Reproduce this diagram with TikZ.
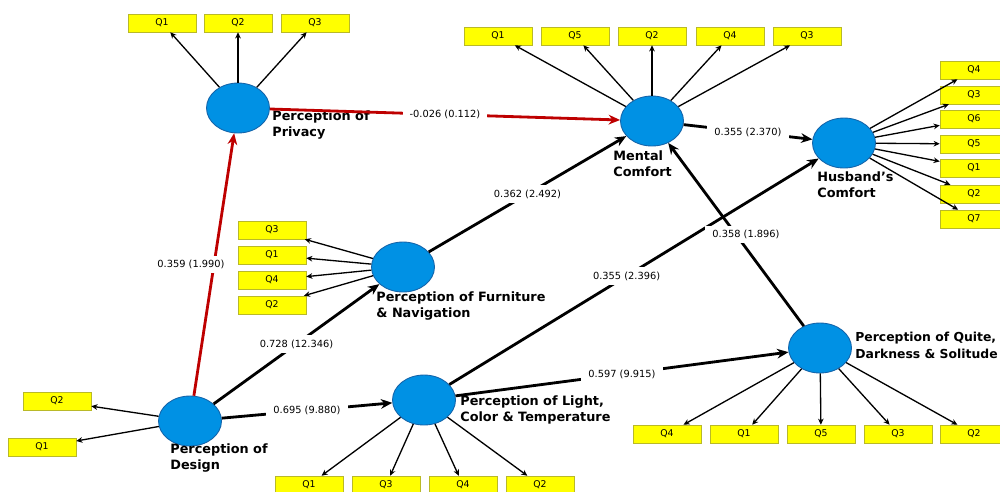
\documentclass[tikz,border=0pt]{standalone}
\usepackage{fontspec}
\newfontfamily\dv{DejaVu Sans}
\usetikzlibrary{arrows.meta,shapes.geometric}
\definecolor{lvfill}{RGB}{0,145,228}
\definecolor{lvdraw}{RGB}{20,100,170}
\definecolor{boxfill}{RGB}{255,255,0}
\definecolor{boxdraw}{RGB}{185,185,40}
\definecolor{pathred}{RGB}{190,0,0}
\begin{document}
\begin{tikzpicture}[x=0.02cm,y=-0.02cm,
 lv/.style={ellipse, draw=lvdraw, fill=lvfill, line width=0.5pt, minimum width=1.26cm, minimum height=1.0cm, inner sep=0pt},
 ind/.style={rectangle, fill=boxfill, draw=boxdraw, line width=0.3pt, minimum width=1.36cm, minimum height=0.36cm, inner sep=0pt, font=\dv\fontsize{5.3}{6}\selectfont},
 lvlab/.style={anchor=north west, align=left, inner sep=0pt, font=\dv\bfseries\fontsize{7.3}{9.6}\selectfont},
 load/.style={-{Stealth[length=3.5pt,width=3.2pt]}, line width=0.75pt},
 pth/.style={-{Stealth[length=6.5pt,width=5.5pt]}, line width=1.6pt},
 rpth/.style={pth, draw=pathred},
 coef/.style={fill=white, inner xsep=4pt, inner ysep=2.5pt, font=\dv\fontsize{5.6}{6}\selectfont, text=black}
]
\useasboundingbox (0,0) rectangle (1000,491);

% latent variables
\node[lv] (priv) at (238,108) {};
\node[lv] (ment) at (652,121) {};
\node[lv] (husb) at (844,143) {};
\node[lv] (furn) at (403,267) {};
\node[lv] (desg) at (190,421) {};
\node[lv] (lght) at (424,400) {};
\node[lv] (quit) at (820,348) {};

% labels of latent variables
\node[lvlab] (privl) at (272,110) {Perception of\\Privacy};
\node[lvlab] (mentl) at (613,150) {Mental\\Comfort};
\node[lvlab] (husbl) at (817,171) {Husband’s\\Comfort};
\node[lvlab] (furnl) at (376,291) {Perception of Furniture\\\& Navigation};
\node[lvlab] (desgl) at (170,443) {Perception of\\Design};
\node[lvlab] (lghtl) at (460,395) {Perception of Light,\\Color \& Temperature};
\node[lvlab, font=\dv\bfseries\fontsize{7.05}{9.6}\selectfont] (quitl) at (855,332) {Perception of Quite,\\Darkness \& Solitude};

% indicators: privacy
\node[ind] (p1) at (162,23) {Q1};
\node[ind] (p2) at (238,23) {Q2};
\node[ind] (p3) at (315,23) {Q3};
% mental
\node[ind] (m1) at (498,36) {Q1};
\node[ind] (m5) at (575,36) {Q5};
\node[ind] (m2) at (652,36) {Q2};
\node[ind] (m4) at (730,36) {Q4};
\node[ind] (m3) at (807,36) {Q3};
% husband
\node[ind] (h4) at (974,70) {Q4};
\node[ind] (h3) at (974,95) {Q3};
\node[ind] (h6) at (974,119) {Q6};
\node[ind] (h5) at (974,144) {Q5};
\node[ind] (h1) at (974,168) {Q1};
\node[ind] (h2) at (974,194) {Q2};
\node[ind] (h7) at (974,219) {Q7};
% furniture
\node[ind] (f3) at (272,230) {Q3};
\node[ind] (f1) at (272,255) {Q1};
\node[ind] (f4) at (272,280) {Q4};
\node[ind] (f2) at (272,305) {Q2};
% design
\node[ind] (d2) at (57,401) {Q2};
\node[ind] (d1) at (42,447) {Q1};
% light
\node[ind] (l1) at (309,485) {Q1};
\node[ind] (l3) at (386,485) {Q3};
\node[ind] (l4) at (463,485) {Q4};
\node[ind] (l2) at (540,485) {Q2};
% quite
\node[ind] (q4) at (667,434) {Q4};
\node[ind] (q1) at (744,434) {Q1};
\node[ind] (q5) at (821,434) {Q5};
\node[ind] (q3) at (898,434) {Q3};
\node[ind] (q2) at (974,434) {Q2};

% loadings
\foreach \t in {p1,p2,p3} \draw[load] (priv) -- (\t);
\foreach \t in {m1,m5,m2,m4,m3} \draw[load] (ment) -- (\t);
\foreach \t in {h4,h3,h6,h5,h1,h2,h7} \draw[load] (husb) -- (\t);
\foreach \t in {f3,f1,f4,f2} \draw[load] (furn) -- (\t);
\foreach \t in {d2,d1} \draw[load] (desg) -- (\t);
\foreach \t in {l1,l3,l4,l2} \draw[load] (lght) -- (\t);
\foreach \t in {q4,q1,q5,q3,q2} \draw[load] (quit) -- (\t);

% structural paths
\draw[rpth] (priv) -- node[coef] {-0.026 (0.112)} (ment);
\draw[rpth] (desg) -- node[coef, xshift=-0.46cm] {0.359 (1.990)} (priv);
\draw[pth] (desg) -- node[coef] {0.728 (12.346)} (furn);
\draw[pth] (desg) -- node[coef] {0.695 (9.880)} (lght);
\draw[pth] (furn) -- node[coef] {0.362 (2.492)} (ment);
\draw[pth] (lght) -- node[coef, pos=0.48] {0.355 (2.396)} (husb);
\draw[pth] (lght) -- node[coef] {0.597 (9.915)} (quit);
\draw[pth] (quit) -- node[coef, xshift=0.2cm] {0.358 (1.896)} (ment);
\draw[pth] (ment) -- node[coef] {0.355 (2.370)} (husb);
\end{tikzpicture}
\end{document}
